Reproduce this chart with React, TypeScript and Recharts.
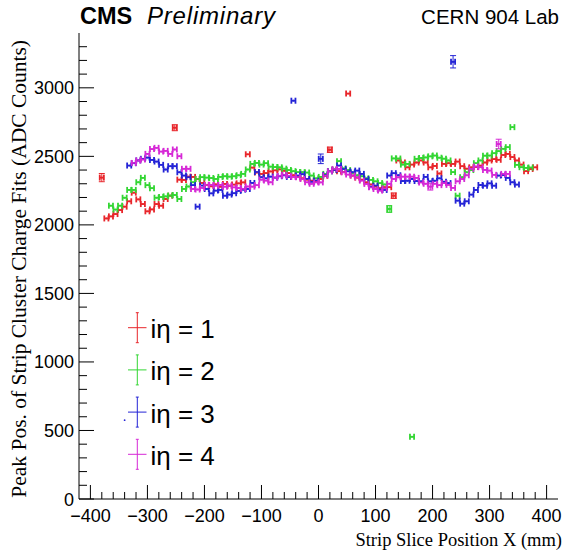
import React from 'react';
import { ScatterChart, Scatter, XAxis, YAxis, ErrorBar, Legend } from 'recharts';

// strip slice centres (mm)
const sliceX = [
  -380, -372, -364, -356, -348, -340, -332, -324,
  -316, -308, -300, -292, -284, -276, -268, -260,
  -252, -244, -236, -228, -220, -212, -204, -196,
  -188, -180, -172, -164, -156, -148, -140, -132,
  -124, -116, -108, -100, -92, -84, -76, -68,
  -60, -52, -44, -36, -28, -20, -12, -4,
  4, 12, 20, 28, 36, 44, 52, 60,
  68, 76, 84, 92, 100, 108, 116, 124,
  132, 140, 148, 156, 164, 172, 180, 188,
  196, 204, 212, 220, 228, 236, 244, 252,
  260, 268, 276, 284, 292, 300, 308, 316,
  324, 332, 340, 348, 356, 364, 372, 380,
];

// peak positions (ADC counts), one value per slice
const ieta1 = [
  2345, 2047, 2062, 2079, 2108, 2133, 2172, 2235,
  2186, 2152, 2099, 2113, 2152, 2140, 2189, 2213,
  2709, 2330, 2328, 2352, 2350, 2335, 2306, 2292,
  2282, 2296, 2279, 2299, 2286, 2294, 2303, 2310,
  2515, 2418, 2382, 2372, 2378, 2390, 2398, 2405,
  2395, 2378, 2362, 2350, 2340, 2330, 2322, 2318,
  2335, 2358, 2548, 2400, 2392, 2385, 2958, 2360,
  2345, 2330, 2310, 2295, 2280, 2268, 2275, 2275,
  2213, 2470, 2455, 2420, 2440, 2455, 2470, 2455,
  2420, 2430, 2375, 2445, 2450, 2445, 2462, 2428,
  2410, 2420, 2422, 2432, 2455, 2470, 2480, 2475,
  2510, 2518, 2495, 2470, 2440, 2392, 2408, 2420,
];

const ieta2 = [
  null, null, 2140, 2112, 2140, 2198, 2255, 2255,
  2311, 2343, 2290, 2268, 2198, 2203, 2208, 2214,
  2218, 2189, 2262, 2280, 2311, 2335, 2348, 2345,
  2342, 2335, 2350, 2355, 2352, 2355, 2362, 2372,
  2404, 2445, 2452, 2440, 2450, 2425, 2422, 2420,
  2410, 2400, 2392, 2385, 2384, 2382, 2360, 2340,
  2350, 2372, 2392, 2405, 2465, 2412, 2400, 2380,
  2362, 2355, 2340, 2328, 2318, 2305, 2295, 2116,
  2485, 2484, 2440, 2445, 454, 2482, 2488, 2492,
  2500, 2506, 2490, 2483, 2470, 2385, 2213, 2348,
  2384, 2400, 2450, 2470, 2505, 2506, 2523, 2538,
  2555, 2567, 2713, 2438, 2421, 2416, 2418, null,
];

const ieta3 = [
  null, null, null, null, null, 575, 2433, 2450,
  2470, 2482, 2491, 2474, 2462, 2438, 2404, 2428,
  2428, 2384, 2360, 2348, 2290, 2133, 2287, 2262,
  2230, 2250, 2255, 2213, 2221, 2231, 2248, 2257,
  2262, 2306, 2385, 2348, 2340, 2352, 2345, 2355,
  2362, 2350, 2906, 2360, 2370, 2335, 2315, 2323,
  2482, 2365, 2391, 2400, 2433, 2408, 2391, 2384,
  2396, 2372, 2335, 2279, 2286, 2258, 2255, 2360,
  2377, 2362, 2320, 2322, 2335, 2320, 2318, 2350,
  2318, 2322, 2340, 2315, 2305, 3190, 2177, 2155,
  2172, 2221, 2255, 2291, 2286, 2303, 2286, 2360,
  2364, 2343, 2311, 2294, null, null, null, null,
];

const ieta4 = [
  null, null, null, null, null, null, null, 2452,
  2470, 2477, 2518, 2553, 2562, 2535, 2540, 2518,
  2550, 2501, 2409, 2409, 2262, 2258, 2270, 2292,
  2291, 2286, 2291, 2279, 2286, 2274, 2269, 2262,
  2280, 2279, 2290, 2330, 2323, 2311, 2345, 2358,
  2365, 2358, 2350, 2348, 2335, 2311, 2300, 2311,
  2310, 2360, 2391, 2408, 2408, 2384, 2367, 2360,
  2347, 2323, 2299, 2274, 2262, 2250, 2267, 2300,
  2335, 2347, 2352, 2352, 2352, 2343, 2310, 2300,
  2279, 2300, 2290, 2305, 2292, 2270, 2318, 2335,
  2362, 2408, 2426, 2421, 2401, 2396, 2365, 2590,
  2372, 2372, null, null, null, null, null, null,
];

// fits with larger uncertainty: [slice index, y error]
const ieta1Wide = [[0, 30], [16, 22], [50, 20], [64, 20]];
const ieta2Wide = [[63, 25]];
const ieta3Wide = [[48, 35], [77, 45]];
const ieta4Wide = [[72, 25], [87, 35]];
const ieta3NoXErr = [5];

const xTicks = [
  -400, -380, -360, -340, -320, -300, -280, -260, -240, -220, -200, -180, -160, -140,
  -120, -100, -80, -60, -40, -20, 0, 20, 40, 60, 80, 100, 120, 140, 160, 180, 200,
  220, 240, 260, 280, 300, 320, 340, 360, 380, 400,
];
const yTicks = [
  0, 100, 200, 300, 400, 500, 600, 700, 800, 900, 1000, 1100, 1200, 1300, 1400, 1500, 1600,
  1700, 1800, 1900, 2000, 2100, 2200, 2300, 2400, 2500, 2600, 2700, 2800, 2900, 3000, 3100,
  3200, 3300,
];

const SANS = '"Liberation Sans", Arial, sans-serif';
const SERIF = '"Liberation Serif", "Times New Roman", serif';

function toPoints(values: (number | null)[], wide: number[][], noX: number[] = []) {
  const errs = new Map(wide.map(([i, e]) => [i, e]));
  const pts: any[] = [];
  values.forEach((v, i) => {
    if (v == null) return;
    pts.push({ x: sliceX[i], y: v, ex: noX.includes(i) ? 0 : 3.6, ey: errs.get(i) ?? 0 });
  });
  return pts;
}

const series = [
  { name: 'iη = 1', color: '#e8262b', data: toPoints(ieta1, ieta1Wide) },
  { name: 'iη = 2', color: '#33d633', data: toPoints(ieta2, ieta2Wide) },
  { name: 'iη = 3', color: '#2424d6', data: toPoints(ieta3, ieta3Wide, ieta3NoXErr) },
  { name: 'iη = 4', color: '#d629d6', data: toPoints(ieta4, ieta4Wide) },
];

const fmt = (v: number) => String(v).replace('-', '\u2212');

const XTick = (props: any) => {
  const { x, y, payload } = props;
  const v = payload.value;
  const major = v % 100 === 0;
  return (
    <g>
      <line x1={x} x2={x} y1={y} y2={y - (major ? 14 : 7)} stroke="#000" strokeWidth={1} />
      {major && (
        <text x={x} y={y + 23} textAnchor="middle" fontSize={18} fontFamily={SANS} fill="#000">
          {fmt(v)}
        </text>
      )}
    </g>
  );
};

const YTick = (props: any) => {
  const { x, y, payload } = props;
  const v = payload.value;
  const major = v % 500 === 0;
  return (
    <g>
      <line x1={x} x2={x + (major ? 15 : 8)} y1={y} y2={y} stroke="#000" strokeWidth={1} />
      {major && (
        <text x={x - 5} y={y + 6.5} textAnchor="end" fontSize={18} fontFamily={SANS} fill="#000">
          {v}
        </text>
      )}
    </g>
  );
};

const Dot = (props: any) => {
  const { cx, cy, fill } = props;
  if (cx == null || cy == null) return <g />;
  return <circle cx={cx} cy={cy} r={0.9} fill={fill} />;
};

const renderLegend = () => (
  <svg width={170} height={175}>
    {series.map((s, i) => {
      const cy = 22.7 + 42.2 * i;
      return (
        <g key={s.name}>
          <line x1={17.3} x2={17.3} y1={cy - 15} y2={cy + 15} stroke={s.color} strokeWidth={1} />
          <line x1={15.8} x2={18.8} y1={cy - 15} y2={cy - 15} stroke={s.color} strokeWidth={1} />
          <line x1={15.8} x2={18.8} y1={cy + 15} y2={cy + 15} stroke={s.color} strokeWidth={1} />
          <line x1={8} x2={26.5} y1={cy} y2={cy} stroke={s.color} strokeWidth={1} />
          <text x={30.5} y={cy + 10.5} fontSize={26} fontFamily={SANS} fill="#000">
            {s.name}
          </text>
        </g>
      );
    })}
  </svg>
);

export default function App() {
  return (
    <div style={{ position: 'absolute', left: 0, top: 0, width: 566, height: 551, background: '#fff' }}>
      <ScatterChart width={566} height={551} margin={{ top: 33, right: 8, bottom: 0, left: 0 }}>
        <XAxis
          type="number"
          dataKey="x"
          domain={[-420, 420]}
          ticks={xTicks}
          interval={0}
          tick={<XTick />}
          tickSize={0}
          tickMargin={0}
          tickLine={false}
          axisLine={{ stroke: '#000' }}
          height={52}
        />
        <XAxis
          xAxisId="top"
          orientation="top"
          type="number"
          domain={[-420, 420]}
          tick={false}
          tickLine={false}
          axisLine={{ stroke: '#000' }}
          height={0}
        />
        <YAxis
          type="number"
          dataKey="y"
          domain={[0, 3400]}
          ticks={yTicks}
          interval={0}
          tick={<YTick />}
          tickSize={0}
          tickMargin={0}
          tickLine={false}
          axisLine={{ stroke: '#000' }}
          width={79}
        />
        <YAxis
          yAxisId="right"
          orientation="right"
          type="number"
          domain={[0, 3400]}
          tick={false}
          tickLine={false}
          axisLine={{ stroke: '#000' }}
          width={0}
        />
        {series.map((s) => (
          <Scatter
            key={s.name}
            name={s.name}
            data={s.data}
            fill={s.color}
            shape={<Dot />}
            isAnimationActive={false}
          >
            <ErrorBar dataKey="ex" direction="x" width={3} stroke={s.color} strokeWidth={1.8} />
            <ErrorBar dataKey="ey" direction="y" width={3} stroke={s.color} strokeWidth={1} />
          </Scatter>
        ))}
        <Legend
          layout="vertical"
          align="center"
          verticalAlign="middle"
          content={renderLegend}
          wrapperStyle={{ left: 120, top: 305, right: 'auto', bottom: 'auto', width: 170 }}
        />
      </ScatterChart>
      <svg
        width={566}
        height={551}
        style={{ position: 'absolute', left: 0, top: 0, pointerEvents: 'none' }}
      >
        <text x={80} y={24} fontSize={23.5} fontWeight="bold" fontFamily={SANS}>CMS</text>
        <text x={147} y={24} fontSize={24} fontStyle="italic" letterSpacing={0.8} fontFamily={SANS}>
          Preliminary
        </text>
        <text x={559} y={24} fontSize={20.5} textAnchor="end" fontFamily={SANS}>CERN 904 Lab</text>
        <text x={562} y={546} fontSize={18.5} textAnchor="end" fontFamily={SERIF}>
          Strip Slice Position X (mm)
        </text>
        <text
          transform="translate(26, 40) rotate(-90)"
          fontSize={21.5}
          textAnchor="end"
          fontFamily={SERIF}
        >
          Peak Pos. of Strip Cluster Charge Fits (ADC Counts)
        </text>
      </svg>
    </div>
  );
}
